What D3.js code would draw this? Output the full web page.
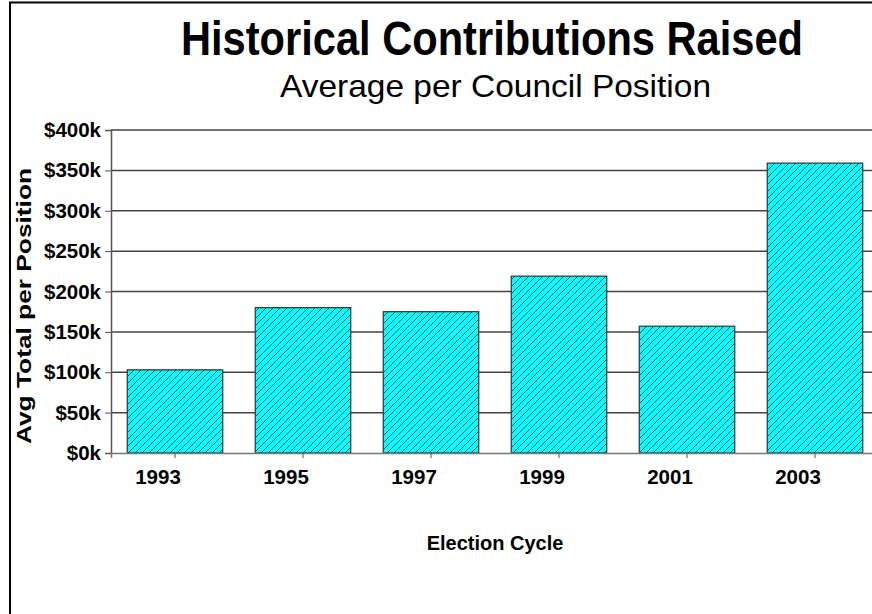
<!DOCTYPE html>
<html>
<head>
<meta charset="utf-8">
<script src="https://cdn.jsdelivr.net/npm/d3@7"></script>
<style>
    body { margin: 0; background: #fff; }
    svg { display: block; font-family: "Liberation Sans", Arial, sans-serif; }
</style>
</head>
<body>
<svg id="chart" width="872" height="614"></svg>
<script>
const years = ["1993", "1995", "1997", "1999", "2001", "2003"];
const avgRaised = [103000, 180000, 175000, 219000, 157000, 359000];
const yTicks = [0, 50000, 100000, 150000, 200000, 250000, 300000, 350000, 400000];

const svg = d3.select("#chart");
const plotLeft = 111, plotBottom = 453, plotTop = 130, plotRight = 879;

// frame (only left and top edges are inside the window)
svg.append("path")
    .attr("d", "M10,614 V2.5 H872")
    .attr("fill", "none").attr("stroke", "#000").attr("stroke-width", 2);

// hatch pattern
const pat = svg.append("defs").append("pattern")
    .attr("id", "hatch").attr("patternUnits", "userSpaceOnUse")
    .attr("width", 7).attr("height", 7);
pat.append("rect").attr("width", 7).attr("height", 7).attr("fill", "#00ffff");
pat.append("path")
    .attr("d", "M-1,1 l2,-2 M0,7 l7,-7 M6,8 l2,-2")
    .attr("stroke", "#164848").attr("stroke-width", 0.9);

const x = d3.scaleBand().domain(years).range([plotLeft, plotRight])
    .paddingInner(0.254).paddingOuter(0.127);
const y = d3.scaleLinear().domain([0, 400000]).range([plotBottom, plotTop]);

// gridlines
svg.append("g").selectAll("line").data(yTicks.slice(1)).join("line")
    .attr("x1", plotLeft).attr("x2", 872)
    .attr("y1", d => y(d)).attr("y2", d => y(d))
    .attr("stroke", "#444").attr("stroke-width", 1.5);

// bars
svg.append("g").selectAll("rect").data(avgRaised).join("rect")
    .attr("x", (d, i) => x(years[i]))
    .attr("y", d => y(d))
    .attr("width", x.bandwidth())
    .attr("height", d => plotBottom - y(d))
    .attr("fill", "url(#hatch)")
    .attr("stroke", "#333").attr("stroke-width", 1.2);

// y axis
const yAxis = svg.append("g").attr("transform", `translate(${plotLeft},0)`)
    .call(d3.axisLeft(y).tickValues(yTicks).tickSize(6).tickPadding(4)
        .tickFormat(d => "$" + d / 1000 + "k"));
yAxis.select(".domain").attr("stroke", "#555").attr("stroke-width", 1.5);
yAxis.selectAll(".tick line").attr("stroke", "#555");
yAxis.selectAll("text").attr("font-size", 20.5).attr("font-weight", "bold")
    .attr("fill", "#000").attr("font-family", "Liberation Sans, Arial, sans-serif");

// x axis
const xAxis = svg.append("g").attr("transform", `translate(0,${plotBottom})`)
    .call(d3.axisBottom(x).tickSize(5).tickPadding(11));
xAxis.select(".domain").attr("stroke", "#777").attr("stroke-width", 1.5);
xAxis.selectAll(".tick line").attr("stroke", "#555");
xAxis.selectAll("text").attr("font-size", 20.5).attr("font-weight", "bold")
    .attr("fill", "#000").attr("dx", -17)
    .attr("font-family", "Liberation Sans, Arial, sans-serif");

// titles
svg.append("text").attr("x", 181).attr("y", 55)
    .attr("font-size", 49).attr("font-weight", "bold")
    .attr("textLength", 622).attr("lengthAdjust", "spacingAndGlyphs")
    .text("Historical Contributions Raised");
svg.append("text").attr("x", 280).attr("y", 97)
    .attr("font-size", 32)
    .attr("textLength", 431).attr("lengthAdjust", "spacingAndGlyphs")
    .text("Average per Council Position");
svg.append("text").attr("x", 495).attr("y", 550)
    .attr("text-anchor", "middle")
    .attr("font-size", 20).attr("font-weight", "bold")
    .text("Election Cycle");
svg.append("text")
    .attr("transform", "translate(31,306) rotate(-90)")
    .attr("text-anchor", "middle")
    .attr("font-size", 20).attr("font-weight", "bold")
    .attr("textLength", 276).attr("lengthAdjust", "spacingAndGlyphs")
    .text("Avg Total per Position");
</script>
</body>
</html>
